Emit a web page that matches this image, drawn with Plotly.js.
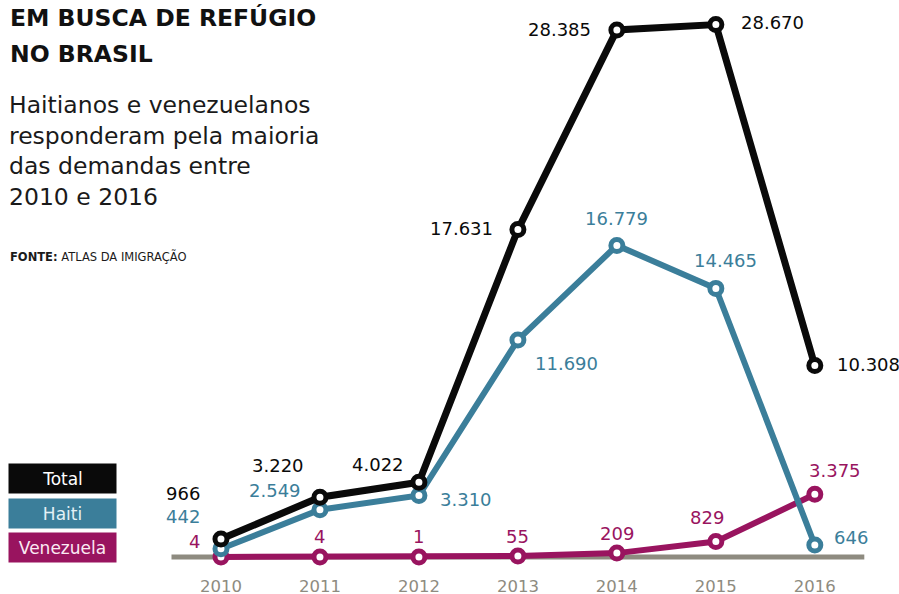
<!DOCTYPE html>
<html><head><meta charset="utf-8">
<script src="https://cdn.plot.ly/plotly-3.0.1.min.js"></script>
<style>html,body{margin:0;padding:0;background:#fff}#chart{width:899px;height:594px}</style>
</head><body><div id="chart"></div>
<script>
// ---- data ----
const years = [2010, 2011, 2012, 2013, 2014, 2015, 2016];
const tickLabels = ['2010', '2011', '2012', '2013', '2014', '2015', '2016'];
const total = [966, 3220, 4022, 17631, 28385, 28670, 10308];
const haiti = [442, 2549, 3310, 11690, 16779, 14465, 646];
const venezuela = [4, 4, 1, 55, 209, 829, 3375];
const seriesNames = ['Total', 'Haiti', 'Venezuela'];
const titleLines = ['EM BUSCA DE REFÚGIO', 'NO BRASIL'];
const subtitleLines = ['Haitianos e venezuelanos', 'responderam pela maioria', 'das demandas entre', '2010 e 2016'];
const sourceText = '<b>FONTE:</b> ATLAS DA IMIGRAÇÃO';

// ---- styles ----
const C = {total: '#0a0a0a', haiti: '#3b7e9a', ven: '#99145f', base: '#8e8b80', tick: '#8e8b80'};
const FONT = 'DejaVu Sans, Open Sans, sans-serif';
// label offsets [xshift, yshift, xanchor]
const totalPos = [[-19,46,'right'],[-14,32,'right'],[-13,18,'right'],[-23,1,'right'],[-24,0,'right'],[23,2,'left'],[20,1,'left']];
const haitiPos = [[-19,32,'right'],[-17,19,'right'],[19,-4,'left'],[15,-24,'left'],[0,27,'center'],[10,28,'center'],[17,8,'left']];
const venPos = [[-19,15,'right'],[0,20,'center'],[0,20,'center'],[0,19,'center'],[0,20,'center'],[-9,24,'center'],[20,24,'center']];

const W = 899, H = 594, M = {l: 122, r: 5, t: 10, b: 22};
const pw = W - M.l - M.r, ph = H - M.t - M.b;
const px = x => (x - M.l) / pw;
const py = y => (H - M.b - y) / ph;

function fmt(n) {
  const s = String(Math.round(n));
  return s.replace(/\B(?=(\d{3})+(?!\d))/g, '.');
}

function trace(name, ys, color, lw) {
  return {
    x: years, y: ys, name: name, type: 'scatter', mode: 'lines+markers',
    line: {color: color, width: lw},
    marker: {symbol: 'circle', size: 12, color: '#ffffff', line: {color: color, width: 5}},
    cliponaxis: false, hoverinfo: 'skip', showlegend: false
  };
}

const data = [
  trace(seriesNames[2], venezuela, C.ven, 6),
  trace(seriesNames[1], haiti, C.haiti, 6),
  trace(seriesNames[0], total, C.total, 7)
];

const annotations = [];
function labels(ys, pos, color) {
  ys.forEach((v, i) => {
    annotations.push({
      x: years[i], y: v, xref: 'x', yref: 'y', text: fmt(v), showarrow: false,
      xanchor: pos[i][2], yanchor: 'middle', xshift: pos[i][0], yshift: pos[i][1],
      font: {family: FONT, size: 18, color: color}
    });
  });
}
labels(total, totalPos, C.total);
labels(haiti, haitiPos, C.haiti);
labels(venezuela, venPos, C.ven);

// titles
titleLines.forEach((t, i) => annotations.push({
  xref: 'paper', yref: 'paper', x: px(8), y: py(34 + i * 36), xanchor: 'left', yanchor: 'bottom',
  text: '<b>' + t + '</b>', showarrow: false, font: {family: FONT, size: 23.5, color: '#111'}
}));
subtitleLines.forEach((t, i) => annotations.push({
  xref: 'paper', yref: 'paper', x: px(7), y: py(121 + i * 30.5), xanchor: 'left', yanchor: 'bottom',
  text: t, showarrow: false, font: {family: FONT, size: 23.5, color: '#1a1a1a'}
}));
annotations.push({
  xref: 'paper', yref: 'paper', x: px(8), y: py(266), xanchor: 'left', yanchor: 'bottom',
  text: sourceText, showarrow: false, font: {family: FONT, size: 11.5, color: '#1a1a1a'}
});

// legend boxes
const legendColors = [[C.total, '#ffffff'], [C.haiti, '#e3f1f6'], [C.ven, '#fbeaf3']];
const legendTops = [463, 498, 532];
seriesNames.forEach((n, i) => annotations.push({
  xref: 'paper', yref: 'paper', x: px(8), y: py(legendTops[i]), xanchor: 'left', yanchor: 'top',
  width: 107, height: 29, borderpad: 0, bgcolor: legendColors[i][0], align: 'center', valign: 'middle',
  text: n, showarrow: false, font: {family: FONT, size: 17, color: legendColors[i][1]}
}));

const layout = {
  width: W, height: H, margin: M, paper_bgcolor: '#fff', plot_bgcolor: '#fff',
  showlegend: false,
  xaxis: {range: [2009, 2016.8], tickvals: years, ticktext: tickLabels, showgrid: false, zeroline: false,
          showline: false, ticks: '', ticklen: 0, automargin: false, ticklabelstandoff: 2,
          tickfont: {family: FONT, size: 16.5, color: C.tick}, fixedrange: true},
  yaxis: {range: [-808, 29456], showgrid: false, zeroline: false, showticklabels: false, showline: false,
          automargin: false, fixedrange: true},
  shapes: [{type: 'line', xref: 'x', yref: 'y', x0: 2009.5, x1: 2016.5, y0: 0, y1: 0,
            line: {color: C.base, width: 5}, layer: 'below'}],
  annotations: annotations
};

Plotly.newPlot('chart', data, layout, {displayModeBar: false, staticPlot: true});
</script>
</body></html>
